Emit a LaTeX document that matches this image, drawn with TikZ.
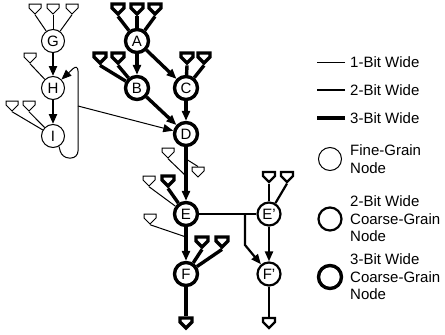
\documentclass[tikz,border=0pt]{standalone}
\usepackage{fontspec}
\setmainfont{Liberation Sans}
\usetikzlibrary{arrows.meta,positioning,shapes.symbols}

\begin{document}
\begin{tikzpicture}[
  x=1pt, y=1pt,
  node distance=47pt and 49pt,
  on grid,
  fine/.style={
    circle,
    draw,
    line width=1pt,
    minimum size=23pt,
    inner sep=0pt,
    font=\fontsize{15}{17.5}\selectfont
  },
  coarsetwo/.style={fine, line width=2.2pt},
  coarsethree/.style={fine, line width=3.4pt},
  inport/.style={
    signal,
    signal to=south,
    draw,
    inner sep=0pt,
    minimum width=12pt,
    minimum height=4pt
  },
  one/.style={line width=1pt},
  two/.style={line width=2.2pt},
  three/.style={line width=3.4pt},
  arr/.style={-{Triangle[length=10pt,width=8pt]}},
  lbl/.style={anchor=west, align=left, inner sep=0pt, font=\fontsize{15}{17.5}\selectfont}
]
\useasboundingbox (0,0) rectangle (445,-335);

% coarse-grain nodes
\node[coarsethree] at (137,-41) (A) {A};
\node[coarsethree, below=of A] (B) {B};
\node[coarsethree, right=of B] (C) {C};
\node[coarsethree, below=46pt of C] (D) {D};
\node[coarsethree, below=80pt of D] (E) {E};
\node[coarsethree, below=60pt of E] (F) {F};
\node[coarsetwo, right=83pt of E] (Ep) {E'};
\node[coarsetwo, right=83pt of F] (Fp) {F'};

% fine-grain nodes
\node[fine, left=84pt of A] (G) {G};
\node[fine, below=of G] (H) {H};
\node[fine, below=48pt of H] (I) {I};

% ports
\node[inport, one] at (35,-6) (g1) {};
\node[inport, one] at (53,-6) (g2) {};
\node[inport, one] at (72,-6) (g3) {};
\node[inport, one] at (30,-55) (h1) {};
\node[inport, one] at (12,-103) (i1) {};
\node[inport, one] at (29,-103) (i2) {};
\node[inport, three] at (118,-6) (a1) {};
\node[inport, three] at (137,-6) (a2) {};
\node[inport, three] at (155,-6) (a3) {};
\node[inport, three] at (100,-55) (b1) {};
\node[inport, three] at (118,-55) (b2) {};
\node[inport, three] at (187,-55) (c1) {};
\node[inport, three] at (204,-55) (c2) {};
\node[inport, one] at (168,-150) (t1) {};
\node[inport, one] at (198,-169) (t2) {};
\node[inport, one] at (149,-178) (e1) {};
\node[inport, three] at (168,-178) (e2) {};
\node[inport, one] at (150,-216) (f1) {};
\node[inport, three] at (202,-239) (f2) {};
\node[inport, three] at (222,-239) (f3) {};
\node[inport, two] at (269,-174) (ep1) {};
\node[inport, two] at (287,-174) (ep2) {};
\node[inport, three] at (186,-320) (fo) {};
\node[inport, two] at (269,-320) (fpo) {};

\coordinate (loopout) at (78,-106);
\coordinate (de1) at (186,-176);
\coordinate (de2) at (186,-159);
\coordinate (ef) at (186,-237);
\coordinate[right=59pt of E] (br);

% fine-grain edges
\draw[one] (g1.south) -- (G);
\draw[one] (g2.south) -- (G);
\draw[one] (g3.south) -- (G);
\draw[two, arr] (G) -- (H);
\draw[one] (h1.south) -- (H);
\draw[two, arr] (H) -- (I);
\draw[one] (i1.south) -- (I);
\draw[one] (i2.south) -- (I);
\draw[one, arr, rounded corners=7pt] (I.-60) -- (62,-158) -- (78,-158) -- (78,-64) -- (H.45);
\draw[one, arr] (loopout) -- (D);

% coarse-grain edges
\draw[three] (a1.south) -- (A);
\draw[three] (a2.south) -- (A);
\draw[three] (a3.south) -- (A);
\draw[three, arr] (A) -- (B);
\draw[three, arr] (A) -- (C);
\draw[three] (b1.south) -- (B);
\draw[three] (b2.south) -- (B);
\draw[three] (c1.south) -- (C);
\draw[three] (c2.south) -- (C);
\draw[three, arr] (B) -- (D);
\draw[three, arr] (C) -- (D);
\draw[three, arr] (D) -- (E);
\draw[one] (t1.south) -- (de1);
\draw[one] (de2) -- (t2.north);
\draw[one] (e1.south) -- (E);
\draw[three] (e2.south) -- (E);
\draw[three, arr] (E) -- (F);
\draw[one] (f1.south) -- (ef);
\draw[three] (f2.south) -- (F);
\draw[three] (f3.south) -- (F);
\draw[three] (F) -- (fo.north);
\draw[two] (E) -- (Ep);
\draw[two, arr] (br) -- ++(0,-31) -- (Fp);
\draw[two] (ep1.south) -- (Ep);
\draw[two] (ep2.south) -- (Ep);
\draw[two, arr] (Ep) -- (Fp);
\draw[two] (Fp) -- (fpo.north);

% legend
\node[lbl] at (350,-62) (w1) {1-Bit Wide};
\node[lbl] at (350,-90) (w2) {2-Bit Wide};
\node[lbl] at (350,-118) (w3) {3-Bit Wide};
\draw[one] ([xshift=-5pt]w1.west) -- ++(-28,0);
\draw[two] ([xshift=-5pt]w2.west) -- ++(-28,0);
\draw[three] ([xshift=-5pt]w3.west) -- ++(-28,0);

\node[fine] at (330,-159) (k1) {};
\node[coarsetwo] at (330,-219) (k2) {};
\node[coarsethree] at (330,-277) (k3) {};
\node[lbl] at (350,-159) (n1) {Fine-Grain\\Node};
\node[lbl] at (350,-219) (n2) {2-Bit Wide\\Coarse-Grain\\Node};
\node[lbl] at (350,-277) (n3) {3-Bit Wide\\Coarse-Grain\\Node};

\end{tikzpicture}
\end{document}
